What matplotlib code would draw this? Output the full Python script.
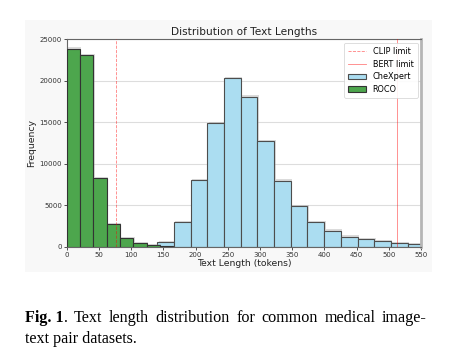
import matplotlib.pyplot as plt
import matplotlib.patheffects as pe
from matplotlib.patches import Rectangle

# Histogram bins (token counts)
roco_edges = [0, 20.7, 41.4, 62.1, 82.8, 103.5, 124.2, 144.9, 165.6]
roco_counts = [23900, 23100, 8300, 2700, 1000, 420, 180, 60]

chexpert_edges = [140.7, 166.6, 192.5, 218.4, 244.3, 270.2, 296.1, 322.0, 347.9,
                  373.8, 399.7, 425.6, 451.5, 477.4, 503.3, 529.2, 555.1]
chexpert_counts = [520, 2940, 8020, 14880, 20300, 18100, 12750, 7950, 4920,
                   2980, 1940, 1220, 890, 640, 400, 290]

clip_limit = 77
bert_limit = 512

caption_line1 = ['Fig. 1.', 'Text', 'length', 'distribution', 'for', 'common', 'medical', 'image-']
caption_line2 = 'text pair datasets.'

fig = plt.figure(figsize=(4.61, 3.61), dpi=100)
fig.patch.set_facecolor('white')

# light panel behind the embedded plot image
fig.patches.append(Rectangle((0.054, 0.247), 0.883, 0.698, transform=fig.transFigure,
                             facecolor='#f8f8f8', edgecolor='none', zorder=-5))

ax = fig.add_axes([0.1447, 0.3166, 0.7685, 0.574])
ax.set_facecolor('white')

# soft offset shadow seen around the bars in the original image
shadow = [pe.SimplePatchShadow(offset=(1.0, 1.0), shadow_rgbFace='#999999', alpha=0.35), pe.Normal()]

# opaque versions of skyblue / green at alpha 0.7 on white
_, _, chex_bars = ax.hist(chexpert_edges[:-1], bins=chexpert_edges, weights=chexpert_counts,
                          color='#abddf1', edgecolor='#4d4d4d', linewidth=0.8,
                          label='CheXpert', zorder=2)
_, _, roco_bars = ax.hist(roco_edges[:-1], bins=roco_edges, weights=roco_counts,
                          color='#4da64d', edgecolor='#333333', linewidth=0.8,
                          label='ROCO', zorder=3)
for b in list(chex_bars) + list(roco_bars):
    b.set_path_effects(shadow)

l_clip = ax.axvline(clip_limit, color='red', linestyle='--', linewidth=0.6, alpha=0.5,
                    label='CLIP limit', zorder=4)
l_bert = ax.axvline(bert_limit, color='red', linestyle='-', linewidth=0.6, alpha=0.5,
                    label='BERT limit', zorder=4)

ax.set_xlim(0, 550)
ax.set_ylim(0, 25000)
ax.set_xticks(range(0, 551, 50))
ax.set_yticks(range(0, 25001, 5000))
ax.grid(True, axis='y', color='#dddddd', linewidth=0.8, zorder=0)
ax.set_axisbelow(True)

ax.set_title('Distribution of Text Lengths', fontsize=7.6, color='#222222', pad=3)
ax.set_xlabel('Text Length (tokens)', fontsize=6.7, color='#222222', labelpad=1)
ax.set_ylabel('Frequency', fontsize=6.7, color='#222222', labelpad=2)
ax.tick_params(labelsize=5, length=2, width=0.6, pad=1.5, colors='#333333')

for s in ax.spines.values():
    s.set_color('#666666')
    s.set_linewidth(0.8)
ax.spines['right'].set_color('#b5b5b5')
ax.spines['right'].set_linewidth(2)

leg = ax.legend([l_clip, l_bert, chex_bars[0], roco_bars[0]],
                ['CLIP limit', 'BERT limit', 'CheXpert', 'ROCO'],
                loc='upper right', fontsize=5.9, frameon=True, borderpad=0.5,
                handlelength=2.2, labelspacing=0.45, fancybox=True, framealpha=0.9,
                borderaxespad=0.4)
leg.get_frame().set_linewidth(0.5)
for h in leg.legend_handles[2:]:
    h.set_path_effects([])

# caption below the figure, justified first line like in the paper
cap_font = ['Liberation Serif', 'DejaVu Serif']
cap_size = 11.6
x_left, x_right = 25, 427
fig.canvas.draw()
r = fig.canvas.get_renderer()
words = []
for i, w in enumerate(caption_line1):
    weight = 'bold' if i == 0 else 'normal'
    t = fig.text(0, 0.108, w, fontsize=cap_size, family=cap_font, fontweight=weight,
                 ha='left', va='baseline')
    words.append(t)
widths = [t.get_window_extent(r).width for t in words]
gap = (x_right - x_left - sum(widths)) / (len(words) - 1)
x = x_left
for t, w in zip(words, widths):
    t.set_x(x / fig.bbox.width)
    x += w + gap
# the "." after "Fig. 1" is regular weight in the paper
words[0].set_text('Fig. 1')
b = words[0].get_window_extent(r)
fig.text(b.x1 / fig.bbox.width, 0.108, '.', fontsize=cap_size, family=cap_font,
         ha='left', va='baseline')
fig.text(x_left / fig.bbox.width, 0.05, caption_line2, fontsize=cap_size, family=cap_font,
         ha='left', va='baseline')

fig.savefig('out.png', dpi=100)
